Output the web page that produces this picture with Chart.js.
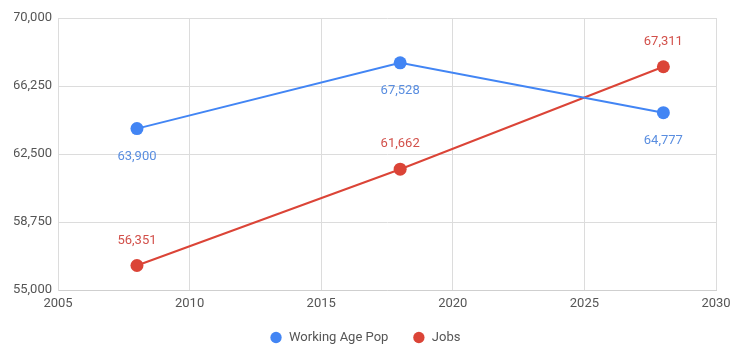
<!DOCTYPE html>
<html>
<head>
<meta charset="utf-8">
<script src="https://cdn.jsdelivr.net/npm/chart.js@4"></script>
<style>
  html, body { margin: 0; padding: 0; background: #fff; }
  #wrap { width: 746px; height: 348px; }
</style>
</head>
<body>
<div id="wrap"><canvas id="graph"></canvas></div>
<script>
// data
const years = [2008, 2018, 2028];
const workingAgePop = [63900, 67528, 64777];
const jobs = [56351, 61662, 67311];
const seriesNames = ["Working Age Pop", "Jobs"];
const yTicks = [55000, 58750, 62500, 66250, 70000];

const BLUE = "#4285f4";
const RED = "#db4437";

// value labels next to each point
const pointLabels = {
  id: "pointLabels",
  afterDatasetsDraw(chart) {
    const ctx = chart.ctx;
    ctx.save();
    ctx.font = "13px Roboto";
    ctx.textAlign = "center";
    ctx.textBaseline = "middle";
    chart.data.datasets.forEach((ds, i) => {
      const meta = chart.getDatasetMeta(i);
      meta.data.forEach((pt, j) => {
        const v = ds.data[j].y;
        ctx.fillStyle = ds.labelColor;
        ctx.fillText(v.toLocaleString("en-US"), pt.x, pt.y + ds.labelOffset);
      });
    });
    ctx.restore();
  },
};

const toPoints = (vals) => vals.map((v, i) => ({ x: years[i], y: v }));

const config = {
  type: "line",
  data: {
    datasets: [
      {
        label: seriesNames[0],
        data: toPoints(workingAgePop),
        borderColor: BLUE,
        backgroundColor: BLUE,
        borderWidth: 2,
        pointRadius: 6.5,
        pointBorderWidth: 0,
        labelColor: "#5a8ee0",
        labelOffset: 28,
      },
      {
        label: seriesNames[1],
        data: toPoints(jobs),
        borderColor: RED,
        backgroundColor: RED,
        borderWidth: 2,
        pointRadius: 6.5,
        pointBorderWidth: 0,
        labelColor: "#d2504a",
        labelOffset: -25,
      },
    ],
  },
  options: {
    responsive: true,
    maintainAspectRatio: false,
    animation: false,
    layout: { padding: { top: 18, right: 30, left: 14, bottom: -6 } },
    scales: {
      x: {
        type: "linear",
        min: 2005,
        max: 2030,
        afterFit(scale) {
          scale.height = 17;
        },
        ticks: {
          stepSize: 5,
          color: "#555",
          font: { family: "Roboto", size: 13 },
          padding: 6,
          callback: (v) => String(v),
        },
        grid: { color: "#dcdcdc", drawTicks: false },
        border: { color: "#cfcfcf" },
      },
      y: {
        min: 55000,
        max: 70000,
        afterBuildTicks(scale) {
          scale.ticks = yTicks.map((v) => ({ value: v }));
        },
        afterFit(scale) {
          scale.width = 44;
        },
        ticks: {
          color: "#555",
          font: { family: "Roboto", size: 13 },
          padding: 6,
          callback: (v) => v.toLocaleString("en-US"),
        },
        grid: { color: "#dcdcdc", drawTicks: false },
        border: { color: "#dcdcdc" },
      },
    },
    plugins: {
      legend: {
        position: "bottom",
        labels: {
          usePointStyle: true,
          pointStyle: "circle",
          boxWidth: 20,
          boxHeight: 8,
          padding: 24,
          color: "#555",
          font: { family: "Roboto", size: 13 },
        },
      },
      tooltip: { enabled: false },
    },
  },
  plugins: [pointLabels],
};

new Chart(document.getElementById("graph"), config);
</script>
</body>
</html>
